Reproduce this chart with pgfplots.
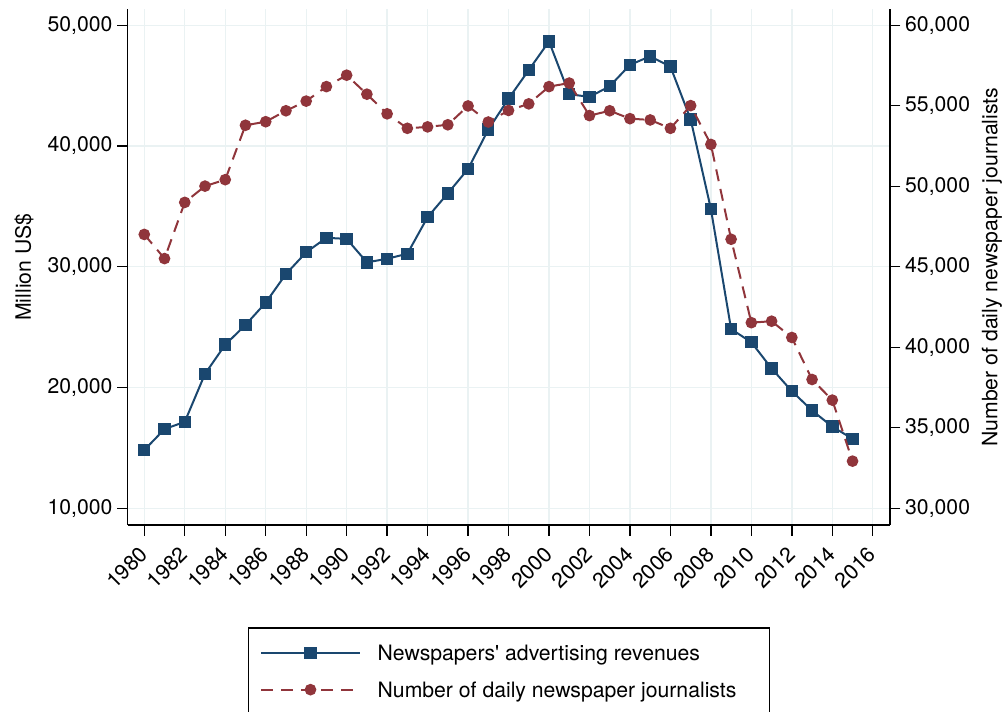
\documentclass[border=0pt]{standalone}
\usepackage{fontspec}
\setmainfont{TeX Gyre Heros}
\usepackage{pgfplots}
\pgfplotsset{compat=1.18}
\definecolor{navy}{HTML}{1A476F}
\definecolor{maroon}{HTML}{90353B}
\definecolor{gridc}{HTML}{EAF2F3}
\newcommand{\fs}{\fontsize{15.9}{19}\selectfont}

\pgfplotstableread{
year rev
1980 14822
1981 16560
1982 17160
1983 21130
1984 23550
1985 25180
1986 27030
1987 29400
1988 31200
1989 32400
1990 32310
1991 30370
1992 30660
1993 31080
1994 34110
1995 36080
1996 38100
1997 41360
1998 43920
1999 46290
2000 48660
2001 44290
2002 44070
2003 44950
2004 46720
2005 47430
2006 46580
2007 42210
2008 34790
2009 24840
2010 23750
2011 21580
2012 19700
2013 18100
2014 16760
2015 15760
}\revtable

\pgfplotstableread{
year jour
1980 47010
1981 45510
1982 49000
1983 50010
1984 50410
1985 53790
1986 54010
1987 54690
1988 55290
1989 56190
1990 56900
1991 55720
1992 54500
1993 53600
1994 53690
1995 53820
1996 54990
1997 53990
1998 54710
1999 55120
2000 56190
2001 56410
2002 54390
2003 54690
2004 54200
2005 54120
2006 53600
2007 55010
2008 52600
2009 46710
2010 41530
2011 41620
2012 40610
2013 38000
2014 36720
2015 32930
}\jourtable

\pgfplotsset{
  common/.style={
    scale only axis, width=571.7pt, height=386.8pt,
    xmin=1979.18, xmax=2016.85,
    tick align=outside, major tick length=7.9pt,
    tick style={black, line width=1pt},
    axis line style={black, line width=1pt, -},
    tick label style={font=\fs},
    /pgf/number format/assume math mode=true,
    scaled y ticks=false,
  }
}

\begin{document}
\begin{tikzpicture}
\begin{axis}[common,
  ymin=8617, ymax=51325,
  axis x line*=bottom, axis y line*=left,
  xtick={1980,1982,...,2016},
  ytick={10000,20000,...,50000},
  xmajorgrids, ymajorgrids,
  major grid style={gridc, line width=1pt},
  xticklabel style={xshift=2pt, yshift=-9pt, rotate=45, anchor=east, /pgf/number format/1000 sep={}},
  ylabel={Million US\$},
  every axis y label/.style={at={(axis description cs:-0.136,0.5)}, anchor=center, rotate=90, font=\fs},
]
\addplot[navy, line width=1.5pt, mark=square*, mark size=3.9pt, mark options={solid}] table[x=year, y=rev] {\revtable};
\end{axis}
\begin{axis}[common,
  ymin=28963, ymax=60994,
  hide x axis, axis y line*=right,
  ytick={30000,35000,...,60000},
  ylabel={Number of daily newspaper journalists},
  every axis y label/.style={at={(axis description cs:1.1338,0.5)}, anchor=center, rotate=90, font=\fs},
  legend style={at={(0.5,-0.1984)}, anchor=north, draw=black, line width=1pt,
    inner xsep=8.8pt, inner ysep=5pt, column sep=12.5pt, row sep=0pt, font=\fs,
    nodes={inner sep=0pt, text height=19.55pt, text depth=7.95pt}},
  legend cell align=left,
  legend image code/.code={\draw[mark repeat=2, mark phase=2, #1] plot coordinates {(0pt,0pt) (37.125pt,0pt) (74.25pt,0pt)};},
]
\addlegendimage{navy, line width=1.5pt, mark=square*, mark size=3.9pt, mark options={solid}}
\addlegendentry{\makebox[285pt][l]{Newspapers\textquotesingle\ advertising revenues}}
\addplot[maroon, line width=1.5pt, dash pattern=on 9pt off 6pt, mark=*, mark size=3.6pt, mark options={solid}] table[x=year, y=jour] {\jourtable};
\addlegendentry{\makebox[285pt][l]{Number of daily newspaper journalists}}
\end{axis}
\pgfresetboundingbox
\useasboundingbox (-95.775pt,-139.5pt) rectangle (657.975pt,393.75pt);
\end{tikzpicture}
\end{document}
